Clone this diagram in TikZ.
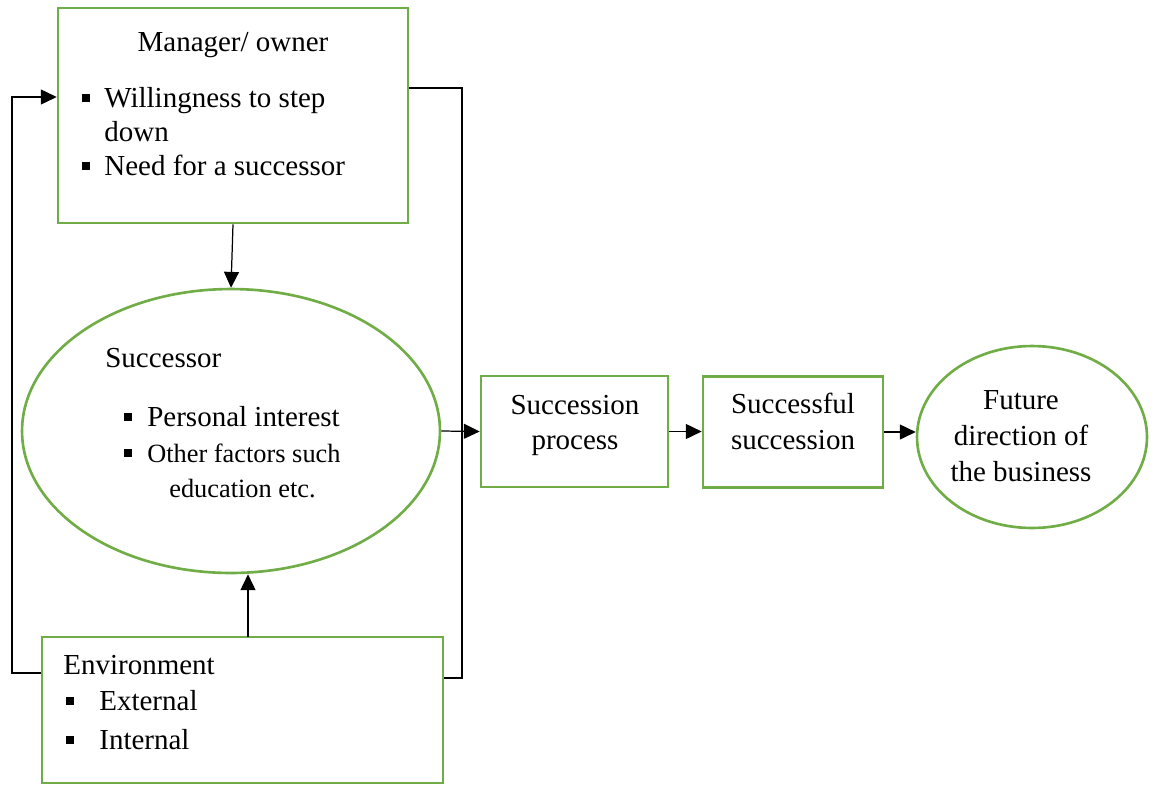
\documentclass[tikz,border=0pt]{standalone}
\usepackage{fontspec}
\setmainfont{Liberation Serif}
\usetikzlibrary{shapes.geometric,arrows.meta}
\definecolor{boxgreen}{RGB}{112,173,71}
\newcommand{\sqb}{\rule[2.8pt]{4.5pt}{4.5pt}}
\tikzset{
  greenbox/.style={draw=boxgreen, line width=1.5pt, rectangle, inner sep=0pt},
  greenoval/.style={draw=boxgreen, line width=1.5pt, ellipse, inner sep=0pt},
  txt/.style={anchor=base west, inner sep=0pt, font=\fontsize{16.5}{19.5}\selectfont},
  smalltxt/.style={txt, font=\fontsize{15}{18}\selectfont},
  ctxt/.style={anchor=base, inner sep=0pt, font=\fontsize{16.5}{19.5}\selectfont},
  link/.style={line width=0.7pt},
  arr/.style={link, -{Triangle[length=9pt,width=8.5pt]}}
}
\begin{document}
\begin{tikzpicture}[x=0.02cm, y=-0.02cm]
\useasboundingbox (0,0) rectangle (1155,785);

% shapes
\node[greenbox, minimum width=7cm, minimum height=4.3cm] (mgr) at (233,115.5) {};
\node[greenoval, minimum width=8.36cm, minimum height=5.68cm] (succr) at (231,431) {};
\node[greenbox, minimum width=8.02cm, minimum height=2.92cm] (env) at (242.5,710) {};
\node[greenbox, minimum width=3.74cm, minimum height=2.22cm] (proc) at (574.5,431.5) {};
\node[greenbox, minimum width=3.6cm, minimum height=2.22cm] (succ) at (793,432) {};
\node[greenoval, minimum width=4.6cm, minimum height=3.64cm] (future) at (1032,437) {};

% manager / owner
\node[ctxt] (mgrT) at (233,51) {Manager/ owner};
\node[txt] (mgrB1) at (82,107) {\sqb};
\node[txt] (mgrL1) at (104,107) {Willingness to step};
\node[txt] (mgrL2) at (104,141) {down};
\node[txt] (mgrB2) at (82,175) {\sqb};
\node[txt] (mgrL3) at (104,175) {Need for a successor};

% successor
\node[txt] (succrT) at (105,367) {Successor};
\node[txt] (succrB1) at (124,426) {\sqb};
\node[txt] (succrL1) at (147,426) {Personal interest};
\node[smalltxt] (succrB2) at (124,462) {\sqb};
\node[smalltxt] (succrL2) at (147,462) {Other factors such};
\node[smalltxt] (succrL3) at (169,497) {education etc.};

% environment
\node[txt] (envT) at (63,674) {Environment};
\node[txt] (envB1) at (66,710) {\sqb};
\node[txt] (envL1) at (99,710) {External};
\node[txt] (envB2) at (66,749) {\sqb};
\node[txt] (envL2) at (99,749) {Internal};

% right chain
\node[ctxt] (procL1) at (575,414) {Succession};
\node[ctxt] (procL2) at (575,449) {process};
\node[ctxt] (succL1) at (793,413) {Successful};
\node[ctxt] (succL2) at (793,449) {succession};
\node[ctxt] (futL1) at (1021,409) {Future};
\node[ctxt] (futL2) at (1021,445) {direction of};
\node[ctxt] (futL3) at (1021,481) {the business};

% connectors
\coordinate (fbA) at (12,673);
\coordinate (fbB) at (12,97);
\coordinate (fbC) at (462,88);
\coordinate (fbD) at (462,678);
\coordinate (envup) at (248,637);

\draw[arr] (env.west |- fbA) -- (fbA) -- (fbB) -- (mgr.west |- fbB);
\draw[link] (mgr.east |- fbC) -- (fbC) -- (fbD) -- (env.east |- fbD);
\draw[arr] (mgr.south) -- (succr.north);
\draw[arr] (envup) -- (envup |- succr.south);
\draw[arr] (succr.east) -- (proc.west);
\draw[arr] (proc.east) -- (proc.east -| succ.west);
\draw[arr] (succ.east) -- (succ.east -| future.west);
\end{tikzpicture}
\end{document}
